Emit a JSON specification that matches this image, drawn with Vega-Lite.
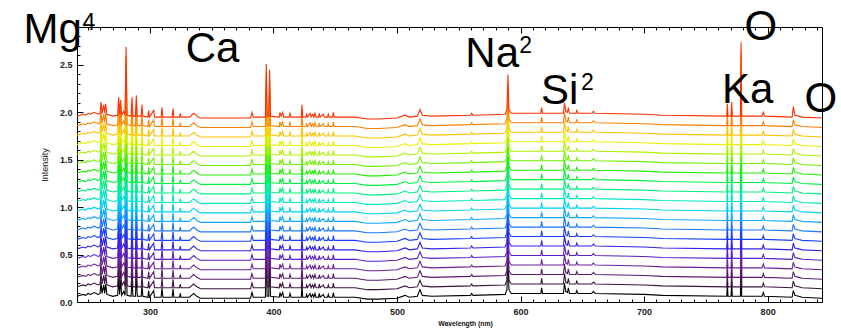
{
"$schema":"https://vega.github.io/schema/vega-lite/v6.json",
"width":745,"height":275,
"autosize":{"type":"none"},
"padding":{"left":77,"top":27,"right":19,"bottom":26},
"background":"white",
"config":{"view":{"stroke":"#000","strokeWidth":1},"axis":{"grid":false,"domain":false,"tickColor":"#000","labelColor":"#222","labelFont":"Liberation Sans","labelFontSize":9,"labelFontWeight":"bold","titleFont":"Liberation Sans","titleColor":"#111","titleFontWeight":"normal"}},
"datasets":{"spectra":[
{"w":241,"a":0.06,"b":0.16,"c":0.26,"d":0.36,"e":0.46,"f":0.56,"g":0.66,"h":0.76,"i":0.86,"j":0.96,"k":1.06,"l":1.16,"m":1.26,"n":1.36,"o":1.46,"p":1.56,"q":1.66,"r":1.76,"s":1.86,"t":1.96},
{"w":246,"a":0.08,"b":0.18,"c":0.28,"d":0.38,"e":0.48,"f":0.58,"g":0.68,"h":0.78,"i":0.88,"j":0.98,"k":1.08,"l":1.18,"m":1.28,"n":1.38,"o":1.48,"p":1.58,"q":1.68,"r":1.78,"s":1.88,"t":1.98},
{"w":248,"a":0.07,"b":0.17,"c":0.27,"d":0.37,"e":0.47,"f":0.57,"g":0.67,"h":0.77,"i":0.87,"j":0.97,"k":1.07,"l":1.17,"m":1.27,"n":1.37,"o":1.47,"p":1.57,"q":1.67,"r":1.77,"s":1.87,"t":1.97},
{"w":250,"a":0.09,"b":0.19,"c":0.29,"d":0.39,"e":0.49,"f":0.59,"g":0.69,"h":0.79,"i":0.89,"j":0.99,"k":1.09,"l":1.19,"m":1.29,"n":1.39,"o":1.49,"p":1.59,"q":1.69,"r":1.79,"s":1.89,"t":1.99},
{"w":252,"a":0.08,"b":0.18,"c":0.28,"d":0.38,"e":0.48,"f":0.58,"g":0.68,"h":0.78,"i":0.88,"j":0.98,"k":1.08,"l":1.18,"m":1.28,"n":1.38,"o":1.48,"p":1.58,"q":1.68,"r":1.78,"s":1.88,"t":1.98},
{"w":255,"a":0.10,"b":0.20,"c":0.30,"d":0.40,"e":0.50,"f":0.60,"g":0.70,"h":0.80,"i":0.90,"j":1.00,"k":1.10,"l":1.20,"m":1.30,"n":1.40,"o":1.50,"p":1.60,"q":1.70,"r":1.80,"s":1.90,"t":2.00},
{"w":258,"a":0.08,"b":0.18,"c":0.28,"d":0.38,"e":0.48,"f":0.58,"g":0.68,"h":0.78,"i":0.88,"j":0.98,"k":1.08,"l":1.18,"m":1.28,"n":1.38,"o":1.48,"p":1.58,"q":1.68,"r":1.78,"s":1.88,"t":1.98},
{"w":259.7,"a":0.09,"b":0.19,"c":0.29,"d":0.39,"e":0.49,"f":0.59,"g":0.69,"h":0.79,"i":0.89,"j":0.99,"k":1.09,"l":1.19,"m":1.29,"n":1.39,"o":1.49,"p":1.59,"q":1.69,"r":1.79,"s":1.89,"t":1.99},
{"w":260.4,"a":0.21,"b":0.31,"c":0.41,"d":0.51,"e":0.61,"f":0.71,"g":0.81,"h":0.91,"i":1.01,"j":1.11,"k":1.21,"l":1.31,"m":1.41,"n":1.51,"o":1.61,"p":1.71,"q":1.81,"r":1.91,"s":2.01,"t":2.11},
{"w":261.3,"a":0.09,"b":0.19,"c":0.29,"d":0.39,"e":0.49,"f":0.59,"g":0.69,"h":0.79,"i":0.89,"j":0.99,"k":1.09,"l":1.19,"m":1.29,"n":1.39,"o":1.49,"p":1.59,"q":1.69,"r":1.79,"s":1.89,"t":1.99},
{"w":262.6,"a":0.18,"b":0.28,"c":0.38,"d":0.48,"e":0.58,"f":0.68,"g":0.78,"h":0.88,"i":0.98,"j":1.08,"k":1.18,"l":1.28,"m":1.38,"n":1.48,"o":1.58,"p":1.68,"q":1.78,"r":1.88,"s":1.98,"t":2.08},
{"w":263.4,"a":0.09,"b":0.19,"c":0.29,"d":0.39,"e":0.49,"f":0.59,"g":0.69,"h":0.79,"i":0.89,"j":0.99,"k":1.09,"l":1.19,"m":1.29,"n":1.39,"o":1.49,"p":1.59,"q":1.69,"r":1.79,"s":1.89,"t":1.99},
{"w":264.2,"a":0.19,"b":0.29,"c":0.39,"d":0.49,"e":0.59,"f":0.69,"g":0.79,"h":0.89,"i":0.99,"j":1.09,"k":1.19,"l":1.29,"m":1.39,"n":1.49,"o":1.59,"p":1.69,"q":1.79,"r":1.89,"s":1.99,"t":2.09},
{"w":265.2,"a":0.08,"b":0.18,"c":0.28,"d":0.38,"e":0.48,"f":0.58,"g":0.68,"h":0.78,"i":0.88,"j":0.98,"k":1.08,"l":1.18,"m":1.28,"n":1.38,"o":1.48,"p":1.58,"q":1.68,"r":1.78,"s":1.88,"t":1.98},
{"w":270,"a":0.06,"b":0.16,"c":0.26,"d":0.36,"e":0.46,"f":0.56,"g":0.66,"h":0.76,"i":0.86,"j":0.96,"k":1.06,"l":1.16,"m":1.26,"n":1.36,"o":1.46,"p":1.56,"q":1.66,"r":1.76,"s":1.86,"t":1.96},
{"w":273.9,"a":0.07,"b":0.17,"c":0.27,"d":0.37,"e":0.47,"f":0.57,"g":0.67,"h":0.77,"i":0.87,"j":0.97,"k":1.07,"l":1.17,"m":1.27,"n":1.37,"o":1.47,"p":1.57,"q":1.67,"r":1.77,"s":1.87,"t":1.97},
{"w":274.7,"a":0.26,"b":0.36,"c":0.46,"d":0.56,"e":0.66,"f":0.76,"g":0.86,"h":0.96,"i":1.06,"j":1.16,"k":1.26,"l":1.36,"m":1.46,"n":1.56,"o":1.66,"p":1.76,"q":1.86,"r":1.96,"s":2.06,"t":2.16},
{"w":275.5,"a":0.08,"b":0.18,"c":0.28,"d":0.38,"e":0.48,"f":0.58,"g":0.68,"h":0.78,"i":0.88,"j":0.98,"k":1.08,"l":1.18,"m":1.28,"n":1.38,"o":1.48,"p":1.58,"q":1.68,"r":1.78,"s":1.88,"t":1.98},
{"w":276.3,"a":0.23,"b":0.33,"c":0.43,"d":0.53,"e":0.63,"f":0.73,"g":0.83,"h":0.93,"i":1.03,"j":1.13,"k":1.23,"l":1.33,"m":1.43,"n":1.53,"o":1.63,"p":1.73,"q":1.83,"r":1.93,"s":2.03,"t":2.13},
{"w":277.2,"a":0.07,"b":0.17,"c":0.27,"d":0.37,"e":0.47,"f":0.57,"g":0.67,"h":0.77,"i":0.87,"j":0.97,"k":1.07,"l":1.17,"m":1.27,"n":1.37,"o":1.47,"p":1.57,"q":1.67,"r":1.77,"s":1.87,"t":1.97},
{"w":278.8,"a":0.11,"b":0.21,"c":0.31,"d":0.41,"e":0.51,"f":0.61,"g":0.71,"h":0.81,"i":0.91,"j":1.01,"k":1.11,"l":1.21,"m":1.31,"n":1.41,"o":1.51,"p":1.61,"q":1.71,"r":1.81,"s":1.91,"t":2.01},
{"w":279.9,"a":0.07,"b":0.17,"c":0.27,"d":0.37,"e":0.47,"f":0.57,"g":0.67,"h":0.77,"i":0.87,"j":0.97,"k":1.07,"l":1.17,"m":1.27,"n":1.37,"o":1.47,"p":1.57,"q":1.67,"r":1.77,"s":1.87,"t":1.97},
{"w":280.7,"a":0.79,"b":0.89,"c":0.99,"d":1.09,"e":1.19,"f":1.29,"g":1.39,"h":1.49,"i":1.59,"j":1.69,"k":1.79,"l":1.89,"m":1.99,"n":2.09,"o":2.19,"p":2.29,"q":2.39,"r":2.49,"s":2.59,"t":2.69},
{"w":281.5,"a":0.07,"b":0.17,"c":0.27,"d":0.37,"e":0.47,"f":0.57,"g":0.67,"h":0.77,"i":0.87,"j":0.97,"k":1.07,"l":1.17,"m":1.27,"n":1.37,"o":1.47,"p":1.57,"q":1.67,"r":1.77,"s":1.87,"t":1.97},
{"w":284.8,"a":0.06,"b":0.16,"c":0.26,"d":0.36,"e":0.46,"f":0.56,"g":0.66,"h":0.76,"i":0.86,"j":0.96,"k":1.06,"l":1.16,"m":1.26,"n":1.36,"o":1.46,"p":1.56,"q":1.66,"r":1.76,"s":1.86,"t":1.96},
{"w":285.5,"a":0.26,"b":0.36,"c":0.46,"d":0.56,"e":0.66,"f":0.76,"g":0.86,"h":0.96,"i":1.06,"j":1.16,"k":1.26,"l":1.36,"m":1.46,"n":1.56,"o":1.66,"p":1.76,"q":1.86,"r":1.96,"s":2.06,"t":2.16},
{"w":286.3,"a":0.06,"b":0.16,"c":0.26,"d":0.36,"e":0.46,"f":0.56,"g":0.66,"h":0.76,"i":0.86,"j":0.96,"k":1.06,"l":1.16,"m":1.26,"n":1.36,"o":1.46,"p":1.56,"q":1.66,"r":1.76,"s":1.86,"t":1.96},
{"w":288.3,"a":0.06,"b":0.16,"c":0.26,"d":0.36,"e":0.46,"f":0.56,"g":0.66,"h":0.76,"i":0.86,"j":0.96,"k":1.06,"l":1.16,"m":1.26,"n":1.36,"o":1.46,"p":1.56,"q":1.66,"r":1.76,"s":1.86,"t":1.96},
{"w":289,"a":0.28,"b":0.38,"c":0.48,"d":0.58,"e":0.68,"f":0.78,"g":0.88,"h":0.98,"i":1.08,"j":1.18,"k":1.28,"l":1.38,"m":1.48,"n":1.58,"o":1.68,"p":1.78,"q":1.88,"r":1.98,"s":2.08,"t":2.18},
{"w":289.8,"a":0.06,"b":0.16,"c":0.26,"d":0.36,"e":0.46,"f":0.56,"g":0.66,"h":0.76,"i":0.86,"j":0.96,"k":1.06,"l":1.16,"m":1.26,"n":1.36,"o":1.46,"p":1.56,"q":1.66,"r":1.76,"s":1.86,"t":1.96},
{"w":293,"a":0.06,"b":0.16,"c":0.26,"d":0.36,"e":0.46,"f":0.56,"g":0.66,"h":0.76,"i":0.86,"j":0.96,"k":1.06,"l":1.16,"m":1.26,"n":1.36,"o":1.46,"p":1.56,"q":1.66,"r":1.76,"s":1.86,"t":1.96},
{"w":293.6,"a":0.18,"b":0.28,"c":0.38,"d":0.48,"e":0.58,"f":0.68,"g":0.78,"h":0.88,"i":0.98,"j":1.08,"k":1.18,"l":1.28,"m":1.38,"n":1.48,"o":1.58,"p":1.68,"q":1.78,"r":1.88,"s":1.98,"t":2.08},
{"w":294.3,"a":0.06,"b":0.16,"c":0.26,"d":0.36,"e":0.46,"f":0.56,"g":0.66,"h":0.76,"i":0.86,"j":0.96,"k":1.06,"l":1.16,"m":1.26,"n":1.36,"o":1.46,"p":1.56,"q":1.66,"r":1.76,"s":1.86,"t":1.96},
{"w":298.4,"a":0.05,"b":0.15,"c":0.25,"d":0.35,"e":0.45,"f":0.55,"g":0.65,"h":0.75,"i":0.85,"j":0.95,"k":1.05,"l":1.15,"m":1.25,"n":1.35,"o":1.45,"p":1.55,"q":1.65,"r":1.75,"s":1.85,"t":1.95},
{"w":299,"a":0.12,"b":0.22,"c":0.32,"d":0.42,"e":0.52,"f":0.62,"g":0.72,"h":0.82,"i":0.92,"j":1.02,"k":1.12,"l":1.22,"m":1.32,"n":1.42,"o":1.52,"p":1.62,"q":1.72,"r":1.82,"s":1.92,"t":2.02},
{"w":299.6,"a":0.05,"b":0.15,"c":0.25,"d":0.35,"e":0.45,"f":0.55,"g":0.65,"h":0.75,"i":0.85,"j":0.95,"k":1.05,"l":1.15,"m":1.25,"n":1.35,"o":1.45,"p":1.55,"q":1.65,"r":1.75,"s":1.85,"t":1.95},
{"w":303.1,"a":0.12,"b":0.22,"c":0.32,"d":0.42,"e":0.52,"f":0.62,"g":0.72,"h":0.82,"i":0.92,"j":1.02,"k":1.12,"l":1.22,"m":1.32,"n":1.42,"o":1.52,"p":1.62,"q":1.72,"r":1.82,"s":1.92,"t":2.02},
{"w":303.7,"a":0.05,"b":0.15,"c":0.25,"d":0.35,"e":0.45,"f":0.55,"g":0.65,"h":0.75,"i":0.85,"j":0.95,"k":1.05,"l":1.15,"m":1.25,"n":1.35,"o":1.45,"p":1.55,"q":1.65,"r":1.75,"s":1.85,"t":1.95},
{"w":309.1,"a":0.05,"b":0.15,"c":0.25,"d":0.35,"e":0.45,"f":0.55,"g":0.65,"h":0.75,"i":0.85,"j":0.95,"k":1.05,"l":1.15,"m":1.25,"n":1.35,"o":1.45,"p":1.55,"q":1.65,"r":1.75,"s":1.85,"t":1.95},
{"w":309.8,"a":0.15,"b":0.25,"c":0.35,"d":0.45,"e":0.55,"f":0.65,"g":0.75,"h":0.85,"i":0.95,"j":1.05,"k":1.15,"l":1.25,"m":1.35,"n":1.45,"o":1.55,"p":1.65,"q":1.75,"r":1.85,"s":1.95,"t":2.05},
{"w":310.5,"a":0.05,"b":0.15,"c":0.25,"d":0.35,"e":0.45,"f":0.55,"g":0.65,"h":0.75,"i":0.85,"j":0.95,"k":1.05,"l":1.15,"m":1.25,"n":1.35,"o":1.45,"p":1.55,"q":1.65,"r":1.75,"s":1.85,"t":1.95},
{"w":318,"a":0.05,"b":0.15,"c":0.25,"d":0.35,"e":0.45,"f":0.55,"g":0.65,"h":0.75,"i":0.85,"j":0.95,"k":1.05,"l":1.15,"m":1.25,"n":1.35,"o":1.45,"p":1.55,"q":1.65,"r":1.75,"s":1.85,"t":1.95},
{"w":318.7,"a":0.14,"b":0.24,"c":0.34,"d":0.44,"e":0.54,"f":0.64,"g":0.74,"h":0.84,"i":0.94,"j":1.04,"k":1.14,"l":1.24,"m":1.34,"n":1.44,"o":1.54,"p":1.64,"q":1.74,"r":1.84,"s":1.94,"t":2.04},
{"w":319.4,"a":0.05,"b":0.15,"c":0.25,"d":0.35,"e":0.45,"f":0.55,"g":0.65,"h":0.75,"i":0.85,"j":0.95,"k":1.05,"l":1.15,"m":1.25,"n":1.35,"o":1.45,"p":1.55,"q":1.65,"r":1.75,"s":1.85,"t":1.95},
{"w":324,"a":0.05,"b":0.15,"c":0.25,"d":0.35,"e":0.45,"f":0.55,"g":0.65,"h":0.75,"i":0.85,"j":0.95,"k":1.05,"l":1.15,"m":1.25,"n":1.35,"o":1.45,"p":1.55,"q":1.65,"r":1.75,"s":1.85,"t":1.95},
{"w":324.6,"a":0.09,"b":0.19,"c":0.29,"d":0.39,"e":0.49,"f":0.59,"g":0.69,"h":0.79,"i":0.89,"j":0.99,"k":1.09,"l":1.19,"m":1.29,"n":1.39,"o":1.49,"p":1.59,"q":1.69,"r":1.79,"s":1.89,"t":1.99},
{"w":325.2,"a":0.05,"b":0.15,"c":0.25,"d":0.35,"e":0.45,"f":0.55,"g":0.65,"h":0.75,"i":0.85,"j":0.95,"k":1.05,"l":1.15,"m":1.25,"n":1.35,"o":1.45,"p":1.55,"q":1.65,"r":1.75,"s":1.85,"t":1.95},
{"w":332,"a":0.05,"b":0.15,"c":0.25,"d":0.35,"e":0.45,"f":0.55,"g":0.65,"h":0.75,"i":0.85,"j":0.95,"k":1.05,"l":1.15,"m":1.25,"n":1.35,"o":1.45,"p":1.55,"q":1.65,"r":1.75,"s":1.85,"t":1.95},
{"w":335.4,"a":0.09,"b":0.19,"c":0.29,"d":0.39,"e":0.49,"f":0.59,"g":0.69,"h":0.79,"i":0.89,"j":0.99,"k":1.09,"l":1.19,"m":1.29,"n":1.39,"o":1.49,"p":1.59,"q":1.69,"r":1.79,"s":1.89,"t":1.99},
{"w":338,"a":0.06,"b":0.16,"c":0.26,"d":0.36,"e":0.46,"f":0.56,"g":0.66,"h":0.76,"i":0.86,"j":0.96,"k":1.06,"l":1.16,"m":1.26,"n":1.36,"o":1.46,"p":1.56,"q":1.66,"r":1.76,"s":1.86,"t":1.96},
{"w":341,"a":0.04,"b":0.14,"c":0.24,"d":0.34,"e":0.44,"f":0.54,"g":0.64,"h":0.74,"i":0.84,"j":0.94,"k":1.04,"l":1.14,"m":1.24,"n":1.34,"o":1.44,"p":1.54,"q":1.64,"r":1.74,"s":1.84,"t":1.94},
{"w":381.5,"a":0.04,"b":0.14,"c":0.24,"d":0.34,"e":0.44,"f":0.54,"g":0.64,"h":0.74,"i":0.84,"j":0.94,"k":1.04,"l":1.14,"m":1.24,"n":1.34,"o":1.44,"p":1.54,"q":1.64,"r":1.74,"s":1.84,"t":1.94},
{"w":382.6,"a":0.10,"b":0.20,"c":0.30,"d":0.40,"e":0.50,"f":0.60,"g":0.70,"h":0.80,"i":0.90,"j":1.00,"k":1.10,"l":1.20,"m":1.30,"n":1.40,"o":1.50,"p":1.60,"q":1.70,"r":1.80,"s":1.90,"t":2.00},
{"w":383.7,"a":0.05,"b":0.15,"c":0.25,"d":0.35,"e":0.45,"f":0.55,"g":0.65,"h":0.75,"i":0.85,"j":0.95,"k":1.05,"l":1.15,"m":1.25,"n":1.35,"o":1.45,"p":1.55,"q":1.65,"r":1.75,"s":1.85,"t":1.95},
{"w":393.5,"a":0.05,"b":0.15,"c":0.25,"d":0.35,"e":0.45,"f":0.55,"g":0.65,"h":0.75,"i":0.85,"j":0.95,"k":1.05,"l":1.15,"m":1.25,"n":1.35,"o":1.45,"p":1.55,"q":1.65,"r":1.75,"s":1.85,"t":1.95},
{"w":394.2,"a":0.61,"b":0.71,"c":0.81,"d":0.91,"e":1.01,"f":1.11,"g":1.21,"h":1.31,"i":1.41,"j":1.51,"k":1.61,"l":1.71,"m":1.81,"n":1.91,"o":2.01,"p":2.11,"q":2.21,"r":2.31,"s":2.41,"t":2.51},
{"w":394.9,"a":0.06,"b":0.16,"c":0.26,"d":0.36,"e":0.46,"f":0.56,"g":0.66,"h":0.76,"i":0.86,"j":0.96,"k":1.06,"l":1.16,"m":1.26,"n":1.36,"o":1.46,"p":1.56,"q":1.66,"r":1.76,"s":1.86,"t":1.96},
{"w":396.2,"a":0.06,"b":0.16,"c":0.26,"d":0.36,"e":0.46,"f":0.56,"g":0.66,"h":0.76,"i":0.86,"j":0.96,"k":1.06,"l":1.16,"m":1.26,"n":1.36,"o":1.46,"p":1.56,"q":1.66,"r":1.76,"s":1.86,"t":1.96},
{"w":396.9,"a":0.55,"b":0.65,"c":0.75,"d":0.85,"e":0.95,"f":1.05,"g":1.15,"h":1.25,"i":1.35,"j":1.45,"k":1.55,"l":1.65,"m":1.75,"n":1.85,"o":1.95,"p":2.05,"q":2.15,"r":2.25,"s":2.35,"t":2.45},
{"w":397.6,"a":0.06,"b":0.16,"c":0.26,"d":0.36,"e":0.46,"f":0.56,"g":0.66,"h":0.76,"i":0.86,"j":0.96,"k":1.06,"l":1.16,"m":1.26,"n":1.36,"o":1.46,"p":1.56,"q":1.66,"r":1.76,"s":1.86,"t":1.96},
{"w":404.7,"a":0.05,"b":0.15,"c":0.25,"d":0.35,"e":0.45,"f":0.55,"g":0.65,"h":0.75,"i":0.85,"j":0.95,"k":1.05,"l":1.15,"m":1.25,"n":1.35,"o":1.45,"p":1.55,"q":1.65,"r":1.75,"s":1.85,"t":1.95},
{"w":405.3,"a":0.10,"b":0.20,"c":0.30,"d":0.40,"e":0.50,"f":0.60,"g":0.70,"h":0.80,"i":0.90,"j":1.00,"k":1.10,"l":1.20,"m":1.30,"n":1.40,"o":1.50,"p":1.60,"q":1.70,"r":1.80,"s":1.90,"t":2.00},
{"w":406.2,"a":0.06,"b":0.16,"c":0.26,"d":0.36,"e":0.46,"f":0.56,"g":0.66,"h":0.76,"i":0.86,"j":0.96,"k":1.06,"l":1.16,"m":1.26,"n":1.36,"o":1.46,"p":1.56,"q":1.66,"r":1.76,"s":1.86,"t":1.96},
{"w":407.5,"a":0.10,"b":0.20,"c":0.30,"d":0.40,"e":0.50,"f":0.60,"g":0.70,"h":0.80,"i":0.90,"j":1.00,"k":1.10,"l":1.20,"m":1.30,"n":1.40,"o":1.50,"p":1.60,"q":1.70,"r":1.80,"s":1.90,"t":2.00},
{"w":408.2,"a":0.05,"b":0.15,"c":0.25,"d":0.35,"e":0.45,"f":0.55,"g":0.65,"h":0.75,"i":0.85,"j":0.95,"k":1.05,"l":1.15,"m":1.25,"n":1.35,"o":1.45,"p":1.55,"q":1.65,"r":1.75,"s":1.85,"t":1.95},
{"w":412.7,"a":0.05,"b":0.15,"c":0.25,"d":0.35,"e":0.45,"f":0.55,"g":0.65,"h":0.75,"i":0.85,"j":0.95,"k":1.05,"l":1.15,"m":1.25,"n":1.35,"o":1.45,"p":1.55,"q":1.65,"r":1.75,"s":1.85,"t":1.95},
{"w":413.4,"a":0.09,"b":0.19,"c":0.29,"d":0.39,"e":0.49,"f":0.59,"g":0.69,"h":0.79,"i":0.89,"j":0.99,"k":1.09,"l":1.19,"m":1.29,"n":1.39,"o":1.49,"p":1.59,"q":1.69,"r":1.79,"s":1.89,"t":1.99},
{"w":414.3,"a":0.05,"b":0.15,"c":0.25,"d":0.35,"e":0.45,"f":0.55,"g":0.65,"h":0.75,"i":0.85,"j":0.95,"k":1.05,"l":1.15,"m":1.25,"n":1.35,"o":1.45,"p":1.55,"q":1.65,"r":1.75,"s":1.85,"t":1.95},
{"w":422.5,"a":0.05,"b":0.15,"c":0.25,"d":0.35,"e":0.45,"f":0.55,"g":0.65,"h":0.75,"i":0.85,"j":0.95,"k":1.05,"l":1.15,"m":1.25,"n":1.35,"o":1.45,"p":1.55,"q":1.65,"r":1.75,"s":1.85,"t":1.95},
{"w":423.1,"a":0.18,"b":0.28,"c":0.38,"d":0.48,"e":0.58,"f":0.68,"g":0.78,"h":0.88,"i":0.98,"j":1.08,"k":1.18,"l":1.28,"m":1.38,"n":1.48,"o":1.58,"p":1.68,"q":1.78,"r":1.88,"s":1.98,"t":2.08},
{"w":423.7,"a":0.05,"b":0.15,"c":0.25,"d":0.35,"e":0.45,"f":0.55,"g":0.65,"h":0.75,"i":0.85,"j":0.95,"k":1.05,"l":1.15,"m":1.25,"n":1.35,"o":1.45,"p":1.55,"q":1.65,"r":1.75,"s":1.85,"t":1.95},
{"w":426.3,"a":0.05,"b":0.15,"c":0.25,"d":0.35,"e":0.45,"f":0.55,"g":0.65,"h":0.75,"i":0.85,"j":0.95,"k":1.05,"l":1.15,"m":1.25,"n":1.35,"o":1.45,"p":1.55,"q":1.65,"r":1.75,"s":1.85,"t":1.95},
{"w":426.9,"a":0.08,"b":0.18,"c":0.28,"d":0.38,"e":0.48,"f":0.58,"g":0.68,"h":0.78,"i":0.88,"j":0.98,"k":1.08,"l":1.18,"m":1.28,"n":1.38,"o":1.48,"p":1.58,"q":1.68,"r":1.78,"s":1.88,"t":1.98},
{"w":427.6,"a":0.05,"b":0.15,"c":0.25,"d":0.35,"e":0.45,"f":0.55,"g":0.65,"h":0.75,"i":0.85,"j":0.95,"k":1.05,"l":1.15,"m":1.25,"n":1.35,"o":1.45,"p":1.55,"q":1.65,"r":1.75,"s":1.85,"t":1.95},
{"w":429.6,"a":0.09,"b":0.19,"c":0.29,"d":0.39,"e":0.49,"f":0.59,"g":0.69,"h":0.79,"i":0.89,"j":0.99,"k":1.09,"l":1.19,"m":1.29,"n":1.39,"o":1.49,"p":1.59,"q":1.69,"r":1.79,"s":1.89,"t":1.99},
{"w":430.5,"a":0.05,"b":0.15,"c":0.25,"d":0.35,"e":0.45,"f":0.55,"g":0.65,"h":0.75,"i":0.85,"j":0.95,"k":1.05,"l":1.15,"m":1.25,"n":1.35,"o":1.45,"p":1.55,"q":1.65,"r":1.75,"s":1.85,"t":1.95},
{"w":431.7,"a":0.08,"b":0.18,"c":0.28,"d":0.38,"e":0.48,"f":0.58,"g":0.68,"h":0.78,"i":0.88,"j":0.98,"k":1.08,"l":1.18,"m":1.28,"n":1.38,"o":1.48,"p":1.58,"q":1.68,"r":1.78,"s":1.88,"t":1.98},
{"w":432.6,"a":0.05,"b":0.15,"c":0.25,"d":0.35,"e":0.45,"f":0.55,"g":0.65,"h":0.75,"i":0.85,"j":0.95,"k":1.05,"l":1.15,"m":1.25,"n":1.35,"o":1.45,"p":1.55,"q":1.65,"r":1.75,"s":1.85,"t":1.95},
{"w":433.6,"a":0.09,"b":0.19,"c":0.29,"d":0.39,"e":0.49,"f":0.59,"g":0.69,"h":0.79,"i":0.89,"j":0.99,"k":1.09,"l":1.19,"m":1.29,"n":1.39,"o":1.49,"p":1.59,"q":1.69,"r":1.79,"s":1.89,"t":1.99},
{"w":434.4,"a":0.05,"b":0.15,"c":0.25,"d":0.35,"e":0.45,"f":0.55,"g":0.65,"h":0.75,"i":0.85,"j":0.95,"k":1.05,"l":1.15,"m":1.25,"n":1.35,"o":1.45,"p":1.55,"q":1.65,"r":1.75,"s":1.85,"t":1.95},
{"w":436.5,"a":0.05,"b":0.15,"c":0.25,"d":0.35,"e":0.45,"f":0.55,"g":0.65,"h":0.75,"i":0.85,"j":0.95,"k":1.05,"l":1.15,"m":1.25,"n":1.35,"o":1.45,"p":1.55,"q":1.65,"r":1.75,"s":1.85,"t":1.95},
{"w":437.1,"a":0.09,"b":0.19,"c":0.29,"d":0.39,"e":0.49,"f":0.59,"g":0.69,"h":0.79,"i":0.89,"j":0.99,"k":1.09,"l":1.19,"m":1.29,"n":1.39,"o":1.49,"p":1.59,"q":1.69,"r":1.79,"s":1.89,"t":1.99},
{"w":437.8,"a":0.05,"b":0.15,"c":0.25,"d":0.35,"e":0.45,"f":0.55,"g":0.65,"h":0.75,"i":0.85,"j":0.95,"k":1.05,"l":1.15,"m":1.25,"n":1.35,"o":1.45,"p":1.55,"q":1.65,"r":1.75,"s":1.85,"t":1.95},
{"w":440.4,"a":0.08,"b":0.18,"c":0.28,"d":0.38,"e":0.48,"f":0.58,"g":0.68,"h":0.78,"i":0.88,"j":0.98,"k":1.08,"l":1.18,"m":1.28,"n":1.38,"o":1.48,"p":1.58,"q":1.68,"r":1.78,"s":1.88,"t":1.98},
{"w":441.2,"a":0.05,"b":0.15,"c":0.25,"d":0.35,"e":0.45,"f":0.55,"g":0.65,"h":0.75,"i":0.85,"j":0.95,"k":1.05,"l":1.15,"m":1.25,"n":1.35,"o":1.45,"p":1.55,"q":1.65,"r":1.75,"s":1.85,"t":1.95},
{"w":443.8,"a":0.05,"b":0.15,"c":0.25,"d":0.35,"e":0.45,"f":0.55,"g":0.65,"h":0.75,"i":0.85,"j":0.95,"k":1.05,"l":1.15,"m":1.25,"n":1.35,"o":1.45,"p":1.55,"q":1.65,"r":1.75,"s":1.85,"t":1.95},
{"w":444.4,"a":0.08,"b":0.18,"c":0.28,"d":0.38,"e":0.48,"f":0.58,"g":0.68,"h":0.78,"i":0.88,"j":0.98,"k":1.08,"l":1.18,"m":1.28,"n":1.38,"o":1.48,"p":1.58,"q":1.68,"r":1.78,"s":1.88,"t":1.98},
{"w":445.1,"a":0.05,"b":0.15,"c":0.25,"d":0.35,"e":0.45,"f":0.55,"g":0.65,"h":0.75,"i":0.85,"j":0.95,"k":1.05,"l":1.15,"m":1.25,"n":1.35,"o":1.45,"p":1.55,"q":1.65,"r":1.75,"s":1.85,"t":1.95},
{"w":447.9,"a":0.05,"b":0.15,"c":0.25,"d":0.35,"e":0.45,"f":0.55,"g":0.65,"h":0.75,"i":0.85,"j":0.95,"k":1.05,"l":1.15,"m":1.25,"n":1.35,"o":1.45,"p":1.55,"q":1.65,"r":1.75,"s":1.85,"t":1.95},
{"w":448.5,"a":0.10,"b":0.20,"c":0.30,"d":0.40,"e":0.50,"f":0.60,"g":0.70,"h":0.80,"i":0.90,"j":1.00,"k":1.10,"l":1.20,"m":1.30,"n":1.40,"o":1.50,"p":1.60,"q":1.70,"r":1.80,"s":1.90,"t":2.00},
{"w":449.2,"a":0.05,"b":0.15,"c":0.25,"d":0.35,"e":0.45,"f":0.55,"g":0.65,"h":0.75,"i":0.85,"j":0.95,"k":1.05,"l":1.15,"m":1.25,"n":1.35,"o":1.45,"p":1.55,"q":1.65,"r":1.75,"s":1.85,"t":1.95},
{"w":466,"a":0.05,"b":0.15,"c":0.25,"d":0.35,"e":0.45,"f":0.55,"g":0.65,"h":0.75,"i":0.85,"j":0.95,"k":1.05,"l":1.15,"m":1.25,"n":1.35,"o":1.45,"p":1.55,"q":1.65,"r":1.75,"s":1.85,"t":1.95},
{"w":476,"a":0.03,"b":0.13,"c":0.23,"d":0.33,"e":0.43,"f":0.53,"g":0.63,"h":0.73,"i":0.83,"j":0.93,"k":1.03,"l":1.13,"m":1.23,"n":1.33,"o":1.43,"p":1.53,"q":1.63,"r":1.73,"s":1.83,"t":1.93},
{"w":485,"a":0.03,"b":0.13,"c":0.23,"d":0.33,"e":0.43,"f":0.53,"g":0.63,"h":0.73,"i":0.83,"j":0.93,"k":1.03,"l":1.13,"m":1.23,"n":1.33,"o":1.43,"p":1.53,"q":1.63,"r":1.73,"s":1.83,"t":1.93},
{"w":500,"a":0.04,"b":0.14,"c":0.24,"d":0.34,"e":0.44,"f":0.54,"g":0.64,"h":0.74,"i":0.84,"j":0.94,"k":1.04,"l":1.14,"m":1.24,"n":1.34,"o":1.44,"p":1.54,"q":1.64,"r":1.74,"s":1.84,"t":1.94},
{"w":506.5,"a":0.07,"b":0.17,"c":0.27,"d":0.37,"e":0.47,"f":0.57,"g":0.67,"h":0.77,"i":0.87,"j":0.97,"k":1.07,"l":1.17,"m":1.27,"n":1.37,"o":1.47,"p":1.57,"q":1.67,"r":1.77,"s":1.87,"t":1.97},
{"w":510,"a":0.05,"b":0.15,"c":0.25,"d":0.35,"e":0.45,"f":0.55,"g":0.65,"h":0.75,"i":0.85,"j":0.95,"k":1.05,"l":1.15,"m":1.25,"n":1.35,"o":1.45,"p":1.55,"q":1.65,"r":1.75,"s":1.85,"t":1.95},
{"w":516.5,"a":0.06,"b":0.16,"c":0.26,"d":0.36,"e":0.46,"f":0.56,"g":0.66,"h":0.76,"i":0.86,"j":0.96,"k":1.06,"l":1.16,"m":1.26,"n":1.36,"o":1.46,"p":1.56,"q":1.66,"r":1.76,"s":1.86,"t":1.96},
{"w":518.6,"a":0.13,"b":0.23,"c":0.33,"d":0.43,"e":0.53,"f":0.63,"g":0.73,"h":0.83,"i":0.93,"j":1.03,"k":1.13,"l":1.23,"m":1.33,"n":1.43,"o":1.53,"p":1.63,"q":1.73,"r":1.83,"s":1.93,"t":2.03},
{"w":520.5,"a":0.07,"b":0.17,"c":0.27,"d":0.37,"e":0.47,"f":0.57,"g":0.67,"h":0.77,"i":0.87,"j":0.97,"k":1.07,"l":1.17,"m":1.27,"n":1.37,"o":1.47,"p":1.57,"q":1.67,"r":1.77,"s":1.87,"t":1.97},
{"w":528,"a":0.06,"b":0.16,"c":0.26,"d":0.36,"e":0.46,"f":0.56,"g":0.66,"h":0.76,"i":0.86,"j":0.96,"k":1.06,"l":1.16,"m":1.26,"n":1.36,"o":1.46,"p":1.56,"q":1.66,"r":1.76,"s":1.86,"t":1.96},
{"w":559.5,"a":0.07,"b":0.17,"c":0.27,"d":0.37,"e":0.47,"f":0.57,"g":0.67,"h":0.77,"i":0.87,"j":0.97,"k":1.07,"l":1.17,"m":1.27,"n":1.37,"o":1.47,"p":1.57,"q":1.67,"r":1.77,"s":1.87,"t":1.97},
{"w":560.4,"a":0.09,"b":0.19,"c":0.29,"d":0.39,"e":0.49,"f":0.59,"g":0.69,"h":0.79,"i":0.89,"j":0.99,"k":1.09,"l":1.19,"m":1.29,"n":1.39,"o":1.49,"p":1.59,"q":1.69,"r":1.79,"s":1.89,"t":1.99},
{"w":561.5,"a":0.07,"b":0.17,"c":0.27,"d":0.37,"e":0.47,"f":0.57,"g":0.67,"h":0.77,"i":0.87,"j":0.97,"k":1.07,"l":1.17,"m":1.27,"n":1.37,"o":1.47,"p":1.57,"q":1.67,"r":1.77,"s":1.87,"t":1.97},
{"w":587.5,"a":0.08,"b":0.18,"c":0.28,"d":0.38,"e":0.48,"f":0.58,"g":0.68,"h":0.78,"i":0.88,"j":0.98,"k":1.08,"l":1.18,"m":1.28,"n":1.38,"o":1.48,"p":1.58,"q":1.68,"r":1.78,"s":1.88,"t":1.98},
{"w":589,"a":0.13,"b":0.23,"c":0.33,"d":0.43,"e":0.53,"f":0.63,"g":0.73,"h":0.83,"i":0.93,"j":1.03,"k":1.13,"l":1.23,"m":1.33,"n":1.43,"o":1.53,"p":1.63,"q":1.73,"r":1.83,"s":1.93,"t":2.03},
{"w":589.8,"a":0.50,"b":0.60,"c":0.70,"d":0.80,"e":0.90,"f":1.00,"g":1.10,"h":1.20,"i":1.30,"j":1.40,"k":1.50,"l":1.60,"m":1.70,"n":1.80,"o":1.90,"p":2.00,"q":2.10,"r":2.20,"s":2.30,"t":2.40},
{"w":590.6,"a":0.13,"b":0.23,"c":0.33,"d":0.43,"e":0.53,"f":0.63,"g":0.73,"h":0.83,"i":0.93,"j":1.03,"k":1.13,"l":1.23,"m":1.33,"n":1.43,"o":1.53,"p":1.63,"q":1.73,"r":1.83,"s":1.93,"t":2.03},
{"w":592.5,"a":0.09,"b":0.19,"c":0.29,"d":0.39,"e":0.49,"f":0.59,"g":0.69,"h":0.79,"i":0.89,"j":0.99,"k":1.09,"l":1.19,"m":1.29,"n":1.39,"o":1.49,"p":1.59,"q":1.69,"r":1.79,"s":1.89,"t":1.99},
{"w":616.4,"a":0.09,"b":0.19,"c":0.29,"d":0.39,"e":0.49,"f":0.59,"g":0.69,"h":0.79,"i":0.89,"j":0.99,"k":1.09,"l":1.19,"m":1.29,"n":1.39,"o":1.49,"p":1.59,"q":1.69,"r":1.79,"s":1.89,"t":1.99},
{"w":617.1,"a":0.15,"b":0.25,"c":0.35,"d":0.45,"e":0.55,"f":0.65,"g":0.75,"h":0.85,"i":0.95,"j":1.05,"k":1.15,"l":1.25,"m":1.35,"n":1.45,"o":1.55,"p":1.65,"q":1.75,"r":1.85,"s":1.95,"t":2.05},
{"w":617.8,"a":0.09,"b":0.19,"c":0.29,"d":0.39,"e":0.49,"f":0.59,"g":0.69,"h":0.79,"i":0.89,"j":0.99,"k":1.09,"l":1.19,"m":1.29,"n":1.39,"o":1.49,"p":1.59,"q":1.69,"r":1.79,"s":1.89,"t":1.99},
{"w":634.7,"a":0.09,"b":0.19,"c":0.29,"d":0.39,"e":0.49,"f":0.59,"g":0.69,"h":0.79,"i":0.89,"j":0.99,"k":1.09,"l":1.19,"m":1.29,"n":1.39,"o":1.49,"p":1.59,"q":1.69,"r":1.79,"s":1.89,"t":1.99},
{"w":635.6,"a":0.20,"b":0.30,"c":0.40,"d":0.50,"e":0.60,"f":0.70,"g":0.80,"h":0.90,"i":1.00,"j":1.10,"k":1.20,"l":1.30,"m":1.40,"n":1.50,"o":1.60,"p":1.70,"q":1.80,"r":1.90,"s":2.00,"t":2.10},
{"w":636.6,"a":0.11,"b":0.21,"c":0.31,"d":0.41,"e":0.51,"f":0.61,"g":0.71,"h":0.81,"i":0.91,"j":1.01,"k":1.11,"l":1.21,"m":1.31,"n":1.41,"o":1.51,"p":1.61,"q":1.71,"r":1.81,"s":1.91,"t":2.01},
{"w":638,"a":0.10,"b":0.20,"c":0.30,"d":0.40,"e":0.50,"f":0.60,"g":0.70,"h":0.80,"i":0.90,"j":1.00,"k":1.10,"l":1.20,"m":1.30,"n":1.40,"o":1.50,"p":1.60,"q":1.70,"r":1.80,"s":1.90,"t":2.00},
{"w":638.7,"a":0.15,"b":0.25,"c":0.35,"d":0.45,"e":0.55,"f":0.65,"g":0.75,"h":0.85,"i":0.95,"j":1.05,"k":1.15,"l":1.25,"m":1.35,"n":1.45,"o":1.55,"p":1.65,"q":1.75,"r":1.85,"s":1.95,"t":2.05},
{"w":639.6,"a":0.09,"b":0.19,"c":0.29,"d":0.39,"e":0.49,"f":0.59,"g":0.69,"h":0.79,"i":0.89,"j":0.99,"k":1.09,"l":1.19,"m":1.29,"n":1.39,"o":1.49,"p":1.59,"q":1.69,"r":1.79,"s":1.89,"t":1.99},
{"w":644.8,"a":0.09,"b":0.19,"c":0.29,"d":0.39,"e":0.49,"f":0.59,"g":0.69,"h":0.79,"i":0.89,"j":0.99,"k":1.09,"l":1.19,"m":1.29,"n":1.39,"o":1.49,"p":1.59,"q":1.69,"r":1.79,"s":1.89,"t":1.99},
{"w":645.5,"a":0.12,"b":0.22,"c":0.32,"d":0.42,"e":0.52,"f":0.62,"g":0.72,"h":0.82,"i":0.92,"j":1.02,"k":1.12,"l":1.22,"m":1.32,"n":1.42,"o":1.52,"p":1.62,"q":1.72,"r":1.82,"s":1.92,"t":2.02},
{"w":646.4,"a":0.09,"b":0.19,"c":0.29,"d":0.39,"e":0.49,"f":0.59,"g":0.69,"h":0.79,"i":0.89,"j":0.99,"k":1.09,"l":1.19,"m":1.29,"n":1.39,"o":1.49,"p":1.59,"q":1.69,"r":1.79,"s":1.89,"t":1.99},
{"w":657.5,"a":0.09,"b":0.19,"c":0.29,"d":0.39,"e":0.49,"f":0.59,"g":0.69,"h":0.79,"i":0.89,"j":0.99,"k":1.09,"l":1.19,"m":1.29,"n":1.39,"o":1.49,"p":1.59,"q":1.69,"r":1.79,"s":1.89,"t":1.99},
{"w":659,"a":0.11,"b":0.21,"c":0.31,"d":0.41,"e":0.51,"f":0.61,"g":0.71,"h":0.81,"i":0.91,"j":1.01,"k":1.11,"l":1.21,"m":1.31,"n":1.41,"o":1.51,"p":1.61,"q":1.71,"r":1.81,"s":1.91,"t":2.01},
{"w":660.5,"a":0.09,"b":0.19,"c":0.29,"d":0.39,"e":0.49,"f":0.59,"g":0.69,"h":0.79,"i":0.89,"j":0.99,"k":1.09,"l":1.19,"m":1.29,"n":1.39,"o":1.49,"p":1.59,"q":1.69,"r":1.79,"s":1.89,"t":1.99},
{"w":700,"a":0.08,"b":0.18,"c":0.28,"d":0.38,"e":0.48,"f":0.58,"g":0.68,"h":0.78,"i":0.88,"j":0.98,"k":1.08,"l":1.18,"m":1.28,"n":1.38,"o":1.48,"p":1.58,"q":1.68,"r":1.78,"s":1.88,"t":1.98},
{"w":715,"a":0.07,"b":0.17,"c":0.27,"d":0.37,"e":0.47,"f":0.57,"g":0.67,"h":0.77,"i":0.87,"j":0.97,"k":1.07,"l":1.17,"m":1.27,"n":1.37,"o":1.47,"p":1.57,"q":1.67,"r":1.77,"s":1.87,"t":1.97},
{"w":766.9,"a":0.06,"b":0.16,"c":0.26,"d":0.36,"e":0.46,"f":0.56,"g":0.66,"h":0.76,"i":0.86,"j":0.96,"k":1.06,"l":1.16,"m":1.26,"n":1.36,"o":1.46,"p":1.56,"q":1.66,"r":1.76,"s":1.86,"t":1.96},
{"w":767.4,"a":0.19,"b":0.29,"c":0.39,"d":0.49,"e":0.59,"f":0.69,"g":0.79,"h":0.89,"i":0.99,"j":1.09,"k":1.19,"l":1.29,"m":1.39,"n":1.49,"o":1.59,"p":1.69,"q":1.79,"r":1.89,"s":1.99,"t":2.09},
{"w":767.9,"a":0.06,"b":0.16,"c":0.26,"d":0.36,"e":0.46,"f":0.56,"g":0.66,"h":0.76,"i":0.86,"j":0.96,"k":1.06,"l":1.16,"m":1.26,"n":1.36,"o":1.46,"p":1.56,"q":1.66,"r":1.76,"s":1.86,"t":1.96},
{"w":770.4,"a":0.06,"b":0.16,"c":0.26,"d":0.36,"e":0.46,"f":0.56,"g":0.66,"h":0.76,"i":0.86,"j":0.96,"k":1.06,"l":1.16,"m":1.26,"n":1.36,"o":1.46,"p":1.56,"q":1.66,"r":1.76,"s":1.86,"t":1.96},
{"w":770.9,"a":0.21,"b":0.31,"c":0.41,"d":0.51,"e":0.61,"f":0.71,"g":0.81,"h":0.91,"i":1.01,"j":1.11,"k":1.21,"l":1.31,"m":1.41,"n":1.51,"o":1.61,"p":1.71,"q":1.81,"r":1.91,"s":2.01,"t":2.11},
{"w":771.4,"a":0.06,"b":0.16,"c":0.26,"d":0.36,"e":0.46,"f":0.56,"g":0.66,"h":0.76,"i":0.86,"j":0.96,"k":1.06,"l":1.16,"m":1.26,"n":1.36,"o":1.46,"p":1.56,"q":1.66,"r":1.76,"s":1.86,"t":1.96},
{"w":778,"a":0.06,"b":0.16,"c":0.26,"d":0.36,"e":0.46,"f":0.56,"g":0.66,"h":0.76,"i":0.86,"j":0.96,"k":1.06,"l":1.16,"m":1.26,"n":1.36,"o":1.46,"p":1.56,"q":1.66,"r":1.76,"s":1.86,"t":1.96},
{"w":778.5,"a":0.84,"b":0.94,"c":1.04,"d":1.14,"e":1.24,"f":1.34,"g":1.44,"h":1.54,"i":1.64,"j":1.74,"k":1.84,"l":1.94,"m":2.04,"n":2.14,"o":2.24,"p":2.34,"q":2.44,"r":2.54,"s":2.64,"t":2.74},
{"w":779,"a":0.06,"b":0.16,"c":0.26,"d":0.36,"e":0.46,"f":0.56,"g":0.66,"h":0.76,"i":0.86,"j":0.96,"k":1.06,"l":1.16,"m":1.26,"n":1.36,"o":1.46,"p":1.56,"q":1.66,"r":1.76,"s":1.86,"t":1.96},
{"w":795.5,"a":0.06,"b":0.16,"c":0.26,"d":0.36,"e":0.46,"f":0.56,"g":0.66,"h":0.76,"i":0.86,"j":0.96,"k":1.06,"l":1.16,"m":1.26,"n":1.36,"o":1.46,"p":1.56,"q":1.66,"r":1.76,"s":1.86,"t":1.96},
{"w":796.5,"a":0.10,"b":0.20,"c":0.30,"d":0.40,"e":0.50,"f":0.60,"g":0.70,"h":0.80,"i":0.90,"j":1.00,"k":1.10,"l":1.20,"m":1.30,"n":1.40,"o":1.50,"p":1.60,"q":1.70,"r":1.80,"s":1.90,"t":2.00},
{"w":797.5,"a":0.06,"b":0.16,"c":0.26,"d":0.36,"e":0.46,"f":0.56,"g":0.66,"h":0.76,"i":0.86,"j":0.96,"k":1.06,"l":1.16,"m":1.26,"n":1.36,"o":1.46,"p":1.56,"q":1.66,"r":1.76,"s":1.86,"t":1.96},
{"w":819.8,"a":0.05,"b":0.15,"c":0.25,"d":0.35,"e":0.45,"f":0.55,"g":0.65,"h":0.75,"i":0.85,"j":0.95,"k":1.05,"l":1.15,"m":1.25,"n":1.35,"o":1.45,"p":1.55,"q":1.65,"r":1.75,"s":1.85,"t":1.95},
{"w":820.8,"a":0.12,"b":0.22,"c":0.32,"d":0.42,"e":0.52,"f":0.62,"g":0.72,"h":0.82,"i":0.92,"j":1.02,"k":1.12,"l":1.22,"m":1.32,"n":1.42,"o":1.52,"p":1.62,"q":1.72,"r":1.82,"s":1.92,"t":2.06},
{"w":822,"a":0.07,"b":0.17,"c":0.27,"d":0.37,"e":0.47,"f":0.57,"g":0.67,"h":0.77,"i":0.87,"j":0.97,"k":1.07,"l":1.17,"m":1.27,"n":1.37,"o":1.47,"p":1.57,"q":1.67,"r":1.77,"s":1.87,"t":1.97},
{"w":825,"a":0.06,"b":0.16,"c":0.26,"d":0.36,"e":0.46,"f":0.56,"g":0.66,"h":0.76,"i":0.86,"j":0.96,"k":1.06,"l":1.16,"m":1.26,"n":1.36,"o":1.46,"p":1.56,"q":1.66,"r":1.76,"s":1.86,"t":1.96},
{"w":828,"a":0.05,"b":0.15,"c":0.25,"d":0.35,"e":0.45,"f":0.55,"g":0.65,"h":0.75,"i":0.85,"j":0.95,"k":1.05,"l":1.15,"m":1.25,"n":1.35,"o":1.45,"p":1.55,"q":1.65,"r":1.75,"s":1.85,"t":1.95},
{"w":844,"a":0.04,"b":0.14,"c":0.24,"d":0.34,"e":0.44,"f":0.54,"g":0.64,"h":0.74,"i":0.84,"j":0.94,"k":1.04,"l":1.14,"m":1.24,"n":1.34,"o":1.44,"p":1.54,"q":1.64,"r":1.74,"s":1.84,"t":1.94}
],
"labels":[{"t":"Mg","w":197.7,"v":2.73},{"t":"Ca","w":329,"v":2.53},{"t":"Na","w":555.3,"v":2.48},{"t":"Si","w":616.6,"v":2.085},{"t":"Ka","w":763.1,"v":2.095},{"t":"O","w":781.3,"v":2.76},{"t":"O","w":829.8,"v":2.0}],
"sups":[{"t":"4","w":245.5,"v":2.868},{"t":"2","w":599,"v":2.626},{"t":"2","w":649,"v":2.236}],
"frame":[{"w":241,"v":0}]
},
"layer":[
{"data":{"name":"spectra"},
"transform":[{"fold":["a","b","c","d","e","f","g","h","i","j","k","l","m","n","o","p","q","r","s","t"],"as":["series","intensity"]}],
"mark":{"type":"line","strokeWidth":1.1,"clip":true},
"encoding":{
"x":{"field":"w","type":"quantitative","scale":{"domain":[241,844],"nice":false,"zero":false},"axis":{"orient":"bottom","values":[300,400,500,600,700,800],"format":"d","tickSize":-6,"labelPadding":11,"title":"Wavelength (nm)","titleFontSize":6.8,"titleFontWeight":"bold","titleX":388,"titlePadding":4}},
"y":{"field":"intensity","type":"quantitative","scale":{"domain":[0,2.9],"nice":false,"zero":false},"axis":{"orient":"left","values":[0,0.5,1,1.5,2,2.5],"format":".1f","tickSize":-6,"labelPadding":11,"title":"Intensity","titleFontSize":9,"titlePadding":10}},
"color":{"field":"series","type":"nominal","scale":{"domain":["a","b","c","d","e","f","g","h","i","j","k","l","m","n","o","p","q","r","s","t"],"range":["#000000","#3c1440","#5a1a70","#6a209a","#5a20c8","#3020e8","#1a40ff","#1a78ff","#10a8ff","#00d0f0","#00e8c0","#00f080","#00f040","#20f000","#70f000","#b0f000","#e8f000","#ffc000","#ff8000","#ff3000"]},"legend":null}
}},
{"data":{"name":"frame"},"mark":{"type":"point","opacity":0},
"encoding":{
"x":{"field":"w","type":"quantitative","axis":{"orient":"bottom","values":[250,260,270,280,290,310,320,330,340,350,360,370,380,390,410,420,430,440,450,460,470,480,490,510,520,530,540,550,560,570,580,590,610,620,630,640,650,660,670,680,690,710,720,730,740,750,760,770,780,790,810,820,830,840],"labels":false,"tickSize":-3,"title":null}},
"y":{"field":"v","type":"quantitative","axis":{"orient":"left","values":[0.1,0.2,0.3,0.4,0.6,0.7,0.8,0.9,1.1,1.2,1.3,1.4,1.6,1.7,1.8,1.9,2.1,2.2,2.3,2.4,2.6,2.7,2.8],"labels":false,"tickSize":-3,"title":null}}
}},
{"data":{"name":"frame"},"mark":{"type":"point","opacity":0},
"encoding":{
"x":{"field":"w","type":"quantitative","axis":{"orient":"top","values":[300,400,500,600,700,800],"labels":false,"tickSize":-6,"title":null}},
"y":{"field":"v","type":"quantitative","axis":null}
}},
{"data":{"name":"frame"},"mark":{"type":"point","opacity":0},
"encoding":{
"x":{"field":"w","type":"quantitative","axis":{"orient":"top","values":[250,260,270,280,290,310,320,330,340,350,360,370,380,390,410,420,430,440,450,460,470,480,490,510,520,530,540,550,560,570,580,590,610,620,630,640,650,660,670,680,690,710,720,730,740,750,760,770,780,790,810,820,830,840],"labels":false,"tickSize":-3,"title":null}},
"y":{"field":"v","type":"quantitative","axis":null}
}},
{"data":{"name":"labels"},"mark":{"type":"text","font":"Liberation Sans","fontSize":42,"align":"left","baseline":"alphabetic","color":"#000"},
"encoding":{"x":{"field":"w","type":"quantitative","axis":null},"y":{"field":"v","type":"quantitative","axis":null},"text":{"field":"t"}}},
{"data":{"name":"sups"},"mark":{"type":"text","font":"Liberation Sans","fontSize":23,"align":"left","baseline":"alphabetic","color":"#000"},
"encoding":{"x":{"field":"w","type":"quantitative","axis":null},"y":{"field":"v","type":"quantitative","axis":null},"text":{"field":"t"}}}
],
"resolve":{"axis":{"x":"independent","y":"independent"}}
}
